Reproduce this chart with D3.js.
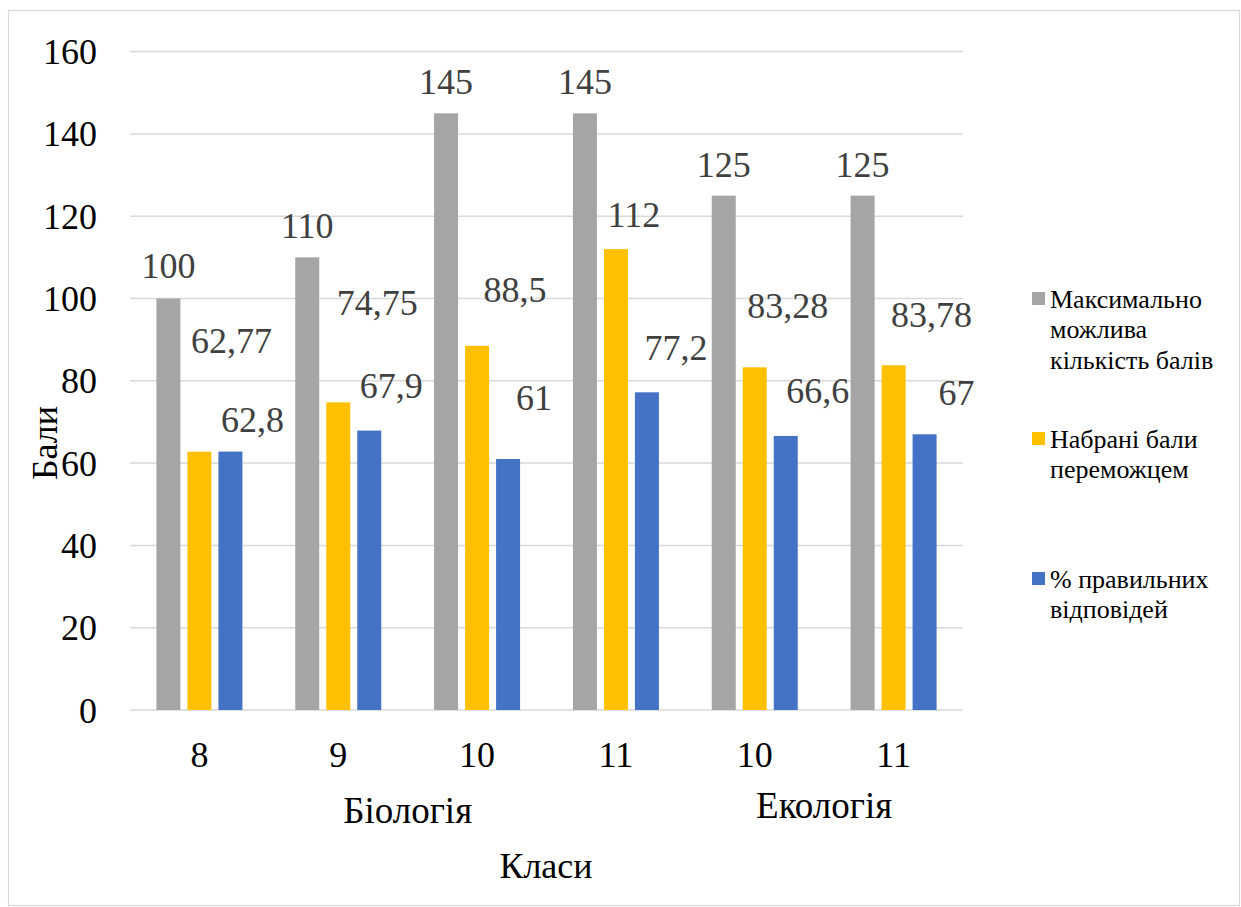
<!DOCTYPE html>
<html>
<head>
<meta charset="utf-8">
<script src="https://cdn.jsdelivr.net/npm/d3@7"></script>
<style>
  html, body { margin: 0; padding: 0; background: #fff; }
  svg { display: block; }
</style>
</head>
<body>
<svg id="chart" width="1241" height="907"></svg>
<script>
// ---- data ----
const classes = ["8", "9", "10", "11", "10", "11"];
const subjects = ["Біологія", "Біологія", "Біологія", "Біологія", "Екологія", "Екологія"];
const seriesNames = ["Максимально можлива кількість балів", "Набрані бали переможцем", "% правильних відповідей"];
const maxPoints = [100, 110, 145, 145, 125, 125];
const winnerPoints = [62.77, 74.75, 88.5, 112, 83.28, 83.78];
const correctPct = [62.8, 67.9, 61, 77.2, 66.6, 67];
const yTicks = [0, 20, 40, 60, 80, 100, 120, 140, 160];

// ---- layout / style ----
const FONT = "'Liberation Serif', 'Times New Roman', Tinos, 'DejaVu Serif', serif";
const colors = ["#A5A5A5", "#FFC000", "#4472C4"];
const legendLines = [["Максимально", "можлива", "кількість балів"], ["Набрані бали", "переможцем"], ["% правильних", "відповідей"]];
// manual label offsets (px) relative to bar top centre: [dx, dy to baseline]
const labelOffsets = [
  [[0,-21],[0,-19],[0,-19],[0,-19],[0,-19],[0,-19]],
  [[32,-99],[39,-87],[38,-44],[18,-22],[33,-49],[38,-38]],
  [[22,-20],[22,-33],[26,-49],[29,-32],[32,-33],[32,-29]]
];

const series = [maxPoints, winnerPoints, correctPct];
const svg = d3.select("#chart").attr("font-family", FONT);

// frame
svg.append("rect").attr("x", 8.5).attr("y", 10.5).attr("width", 1231).attr("height", 895)
  .attr("fill", "#fff").attr("stroke", "#D9D9D9").attr("stroke-width", 1.2);

const plot = { left: 130, right: 963, top: 51.6, bottom: 710 };

const y = d3.scaleLinear().domain([0, 160]).range([plot.bottom, plot.top]);
const x0 = d3.scaleBand().domain(d3.range(classes.length)).range([plot.left, plot.right]).padding(0);
const groupW = 86;
const x1 = d3.scaleBand().domain(d3.range(series.length)).range([0, groupW]).paddingInner(7 / 31).paddingOuter(0);
const groupOffset = (x0.bandwidth() - groupW) / 2;

// gridlines
svg.append("g").selectAll("line").data(yTicks).join("line")
  .attr("x1", plot.left).attr("x2", plot.right)
  .attr("y1", d => y(d)).attr("y2", d => y(d))
  .attr("stroke", "#D9D9D9").attr("stroke-width", 1.5);

// y tick labels
svg.append("g").selectAll("text").data(yTicks).join("text")
  .attr("x", 97).attr("y", d => y(d) + 12.5)
  .attr("text-anchor", "end").attr("font-size", 36).attr("fill", "#000")
  .attr("font-family", FONT)
  .text(d => d);

// bars
series.forEach((vals, si) => {
  svg.append("g").selectAll("rect").data(vals).join("rect")
    .attr("x", (d, i) => x0(i) + groupOffset + x1(si))
    .attr("width", x1.bandwidth())
    .attr("y", d => y(d))
    .attr("height", d => y(0) - y(d))
    .attr("fill", colors[si]);
});

// data labels
series.forEach((vals, si) => {
  svg.append("g").selectAll("text").data(vals).join("text")
    .attr("x", (d, i) => x0(i) + groupOffset + x1(si) + x1.bandwidth() / 2 + labelOffsets[si][i][0])
    .attr("y", (d, i) => y(d) + labelOffsets[si][i][1])
    .attr("text-anchor", "middle").attr("font-size", 36).attr("fill", "#404040")
    .attr("font-family", FONT)
    .text(d => String(d).replace(".", ","));
});

// category labels
svg.append("g").selectAll("text").data(classes).join("text")
  .attr("x", (d, i) => x0(i) + x0.bandwidth() / 2).attr("y", 767)
  .attr("text-anchor", "middle").attr("font-size", 36).attr("fill", "#000")
  .attr("font-family", FONT)
  .text(d => d);

// subject group labels
const subjectGroups = d3.groups(subjects.map((s, i) => ({ s, i })), d => d.s);
const subjBaseline = { "Біологія": 823, "Екологія": 818 };
svg.append("g").selectAll("text").data(subjectGroups).join("text")
  .attr("x", g => d3.mean(g[1], d => x0(d.i) + x0.bandwidth() / 2))
  .attr("y", g => subjBaseline[g[0]])
  .attr("text-anchor", "middle").attr("font-size", 37).attr("fill", "#000")
  .attr("font-family", FONT)
  .text(g => g[0]);

// axis titles
svg.append("text").attr("x", 546).attr("y", 878).attr("text-anchor", "middle")
  .attr("font-size", 36).attr("fill", "#000").attr("font-family", FONT).text("Класи");
svg.append("text").attr("transform", "translate(57,443) rotate(-90)").attr("text-anchor", "middle")
  .attr("font-size", 36).attr("fill", "#000").attr("font-family", FONT).text("Бали");

// legend
const legendTop = [292, 432, 572];
seriesNames.forEach((name, si) => {
  const g = svg.append("g");
  g.append("rect").attr("x", 1032).attr("y", legendTop[si]).attr("width", 13).attr("height", 13).attr("fill", colors[si]);
  g.append("text").attr("x", 1050).attr("y", legendTop[si] + 15.5).attr("font-size", 26).attr("fill", "#000")
    .attr("font-family", FONT)
    .selectAll("tspan").data(legendLines[si]).join("tspan")
    .attr("x", 1050).attr("dy", (d, k) => k === 0 ? 0 : 30.5).text(d => d);
});
</script>
</body>
</html>
